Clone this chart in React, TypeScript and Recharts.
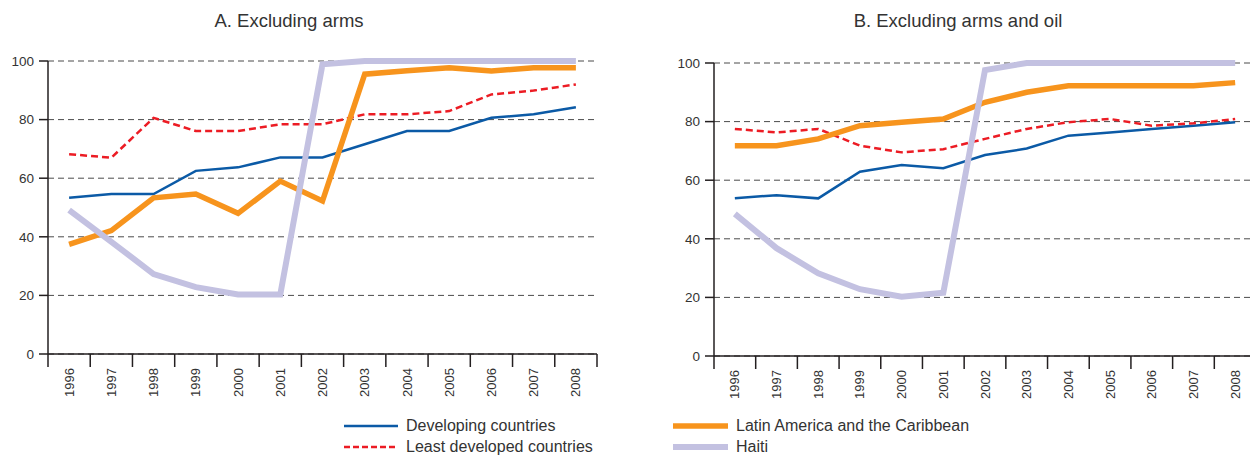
import { CartesianGrid, Line, LineChart, XAxis, YAxis } from "recharts"

const years = ["1996", "1997", "1998", "1999", "2000", "2001", "2002", "2003", "2004", "2005", "2006", "2007", "2008"]
const yTicks = [0, 20, 40, 60, 80, 100]

// Panel A: excluding arms
const developingA = [53.3, 54.6, 54.6, 62.5, 63.7, 67.1, 67.1, 71.6, 76.1, 76.1, 80.6, 81.8, 84.2]
const leastDevA = [68.2, 67.0, 80.6, 76.1, 76.1, 78.4, 78.4, 81.8, 81.8, 82.9, 88.6, 89.9, 92.0]
const latinA = [37.4, 42.1, 53.3, 54.6, 48.0, 59.0, 52.2, 95.5, 96.7, 97.7, 96.6, 97.7, 97.7]
const haitiA = [49.1, 38.3, 27.3, 22.8, 20.3, 20.3, 98.9, 100, 100, 100, 100, 100, 100]

// Panel B: excluding arms and oil
const developingB = [53.8, 54.9, 53.8, 62.9, 65.2, 64.1, 68.6, 70.8, 75.2, 76.3, 77.5, 78.6, 79.8]
const leastDevB = [77.5, 76.3, 77.5, 71.8, 69.5, 70.6, 74.1, 77.5, 79.8, 80.9, 78.6, 79.4, 80.9]
const latinB = [71.8, 71.8, 74.1, 78.6, 79.8, 80.9, 86.6, 90.0, 92.2, 92.2, 92.2, 92.2, 93.3]
const haitiB = [48.5, 36.8, 28.2, 22.8, 20.2, 21.6, 97.6, 100, 100, 100, 100, 100, 100]

const series = [
  { key: "developing", name: "Developing countries", color: "#0b5aa6", width: 2.5, dash: undefined },
  { key: "leastDev", name: "Least developed countries", color: "#ec1c24", width: 2.5, dash: "7 4" },
  { key: "latin", name: "Latin America and the Caribbean", color: "#f7941d", width: 5.5, dash: undefined },
  { key: "haiti", name: "Haiti", color: "#c3c1e1", width: 6, dash: undefined },
]

const rowsA = years.map((year, i) => ({
  year,
  developing: developingA[i],
  leastDev: leastDevA[i],
  latin: latinA[i],
  haiti: haitiA[i],
}))

const rowsB = years.map((year, i) => ({
  year,
  developing: developingB[i],
  leastDev: leastDevB[i],
  latin: latinB[i],
  haiti: haitiB[i],
}))

const font = "'Liberation Sans', Arial, sans-serif"
const ink = "#231f20"

function yearTick(bandWidth: number, count: number) {
  return (props: any) => {
    const { x, y, payload, index } = props
    const half = bandWidth / 2
    return (
      <g>
        <line x1={x - half} x2={x - half} y1={y} y2={y + 13} stroke={ink} strokeWidth={1.5} />
        {index === count - 1 && (
          <line x1={x + half} x2={x + half} y1={y} y2={y + 13} stroke={ink} strokeWidth={1.5} />
        )}
        <text
          x={x}
          y={y + 14}
          dy="0.35em"
          transform={`rotate(-90, ${x}, ${y + 14})`}
          textAnchor="end"
          fontSize={13}
          fill="#333"
          fontFamily={font}
        >
          {payload.value}
        </text>
      </g>
    )
  }
}

function Panel({
  data,
  width,
  top,
  plotWidth,
}: {
  data: Array<Record<string, string | number>>
  width: number
  top: number
  plotWidth: number
}) {
  const height = 420
  const bottom = 354 + (top - 61)
  return (
    <LineChart
      width={width}
      height={height}
      data={data}
      margin={{ top, right: width - 48 - plotWidth, left: 0, bottom: height - bottom - 50 }}
    >
      <CartesianGrid vertical={false} stroke="#4a4a4a" strokeDasharray="6 4" strokeWidth={1} />
      <XAxis
        dataKey="year"
        scale="band"
        height={50}
        tickSize={0}
        tickMargin={0}
        interval={0}
        axisLine={{ stroke: ink, strokeWidth: 1.5 }}
        tick={yearTick(plotWidth / years.length, years.length)}
      />
      <YAxis
        width={48}
        domain={[0, 100]}
        ticks={yTicks}
        tickSize={9}
        tickMargin={5}
        axisLine={{ stroke: ink, strokeWidth: 1.5 }}
        tickLine={{ stroke: ink, strokeWidth: 1.5 }}
        tick={{ fontSize: 13.5, fill: "#333", fontFamily: font }}
      />
      {series.map((s) => (
        <Line
          key={s.key}
          dataKey={s.key}
          name={s.name}
          type="linear"
          stroke={s.color}
          strokeWidth={s.width}
          strokeDasharray={s.dash}
          dot={false}
          activeDot={false}
          isAnimationActive={false}
        />
      ))}
    </LineChart>
  )
}

function LegendItem({ x, y, textX, s }: { x: number; y: number; textX: number; s: (typeof series)[number] }) {
  const len = textX - 8 - x
  return (
    <>
      <svg style={{ position: "absolute", left: x, top: y - 5 }} width={len} height={10}>
        <line
          x1={0}
          x2={len}
          y1={5}
          y2={5}
          stroke={s.color}
          strokeWidth={s.width}
          strokeDasharray={s.dash ? "6 3" : undefined}
        />
      </svg>
      <div
        style={{
          position: "absolute",
          left: textX,
          top: y - 9,
          fontSize: 16,
          lineHeight: "18px",
          color: "#333",
          whiteSpace: "nowrap",
        }}
      >
        {s.name}
      </div>
    </>
  )
}

export default function App() {
  return (
    <div
      style={{
        position: "fixed",
        left: 0,
        top: 0,
        width: 1250,
        height: 456,
        overflow: "hidden",
        background: "#fff",
        fontFamily: font,
      }}
    >
      <div style={{ position: "absolute", left: 189, width: 200, top: 10, textAlign: "center", fontSize: 18.5, color: "#333" }}>
        A. Excluding arms
      </div>
      <div style={{ position: "absolute", left: 808, width: 300, top: 10, textAlign: "center", fontSize: 18.5, color: "#333" }}>
        B. Excluding arms and oil
      </div>
      <div style={{ position: "absolute", left: 0, top: 0 }}>
        <Panel data={rowsA} width={620} top={61} plotWidth={549} />
      </div>
      <div style={{ position: "absolute", left: 666, top: 0 }}>
        <Panel data={rowsB} width={640} top={63} plotWidth={542} />
      </div>
      <LegendItem x={344} y={426} textX={406} s={series[0]} />
      <LegendItem x={344} y={447} textX={406} s={series[1]} />
      <LegendItem x={673} y={426} textX={736} s={series[2]} />
      <LegendItem x={673} y={447} textX={736} s={series[3]} />
    </div>
  )
}
